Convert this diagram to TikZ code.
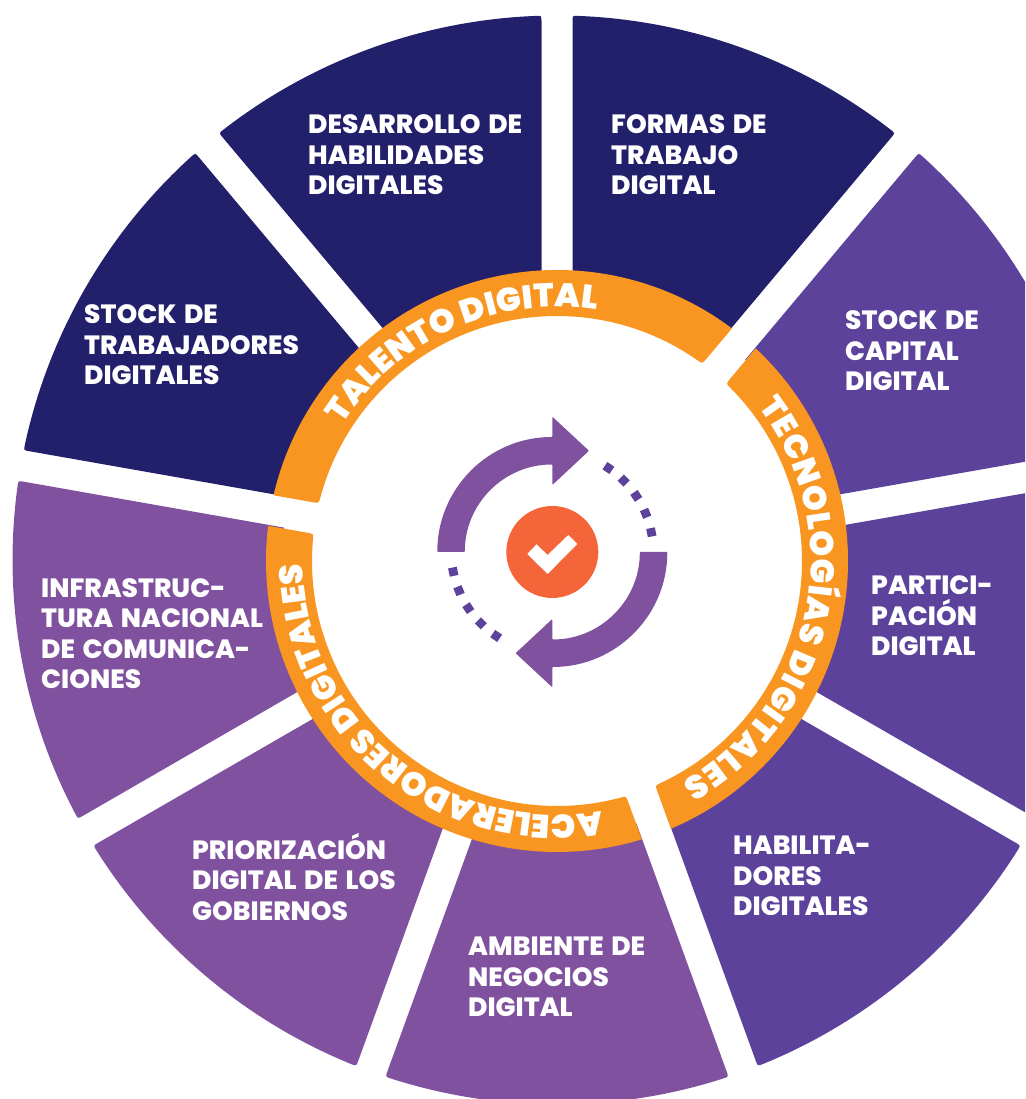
\documentclass[tikz,border=0pt]{standalone}
\usepackage{fontspec}
\setmainfont{Poppins}
\newfontfamily\lblfont[WordSpace=1.5]{Poppins ExtraBold}
\newfontfamily\rngfont{Poppins Black}
\usetikzlibrary{calc,decorations.text}
\definecolor{navy}{HTML}{221F6B}
\definecolor{indig}{HTML}{5C429B}
\definecolor{plum}{HTML}{7F519F}
\definecolor{ringor}{HTML}{F99621}
\definecolor{dotor}{HTML}{F4653A}
\newcommand{\sectorwedge}[3]{%
  \pgfmathsetmacro{\dao}{asin(15.5/544.5)}%
  \pgfmathsetmacro{\dai}{asin(15.5/275)}%
  \pgfmathsetmacro{\arA}{#1-\dao-0.55}%
  \pgfmathsetmacro{\arB}{#2+\dao+0.55}%
  \coordinate (oa) at ({#1-\dao}:544.5);
  \coordinate (ob) at ({#2+\dao}:544.5);
  \coordinate (ia) at ({#1-\dai}:275);
  \coordinate (ib) at ({#2+\dai}:275);
  \fill[#3] ($(oa)!5.5pt!(ia)$) .. controls (oa) .. (\arA:544.5)
    arc[start angle=\arA,end angle=\arB,radius=544.5pt]
    .. controls (ob) .. ($(ob)!5.5pt!(ib)$) -- (ib) -- (ia) -- cycle;
}
\newcommand{\ringseg}[2]{%
  \pgfmathsetmacro{\dao}{asin(15.5/291)}%
  \pgfmathsetmacro{\dai}{asin(15.5/245)}%
  \pgfmathsetmacro{\arA}{#1-\dai-1.5}%
  \pgfmathsetmacro{\arB}{#2+\dai+1.5}%
  \pgfmathsetmacro{\orA}{#1-\dao}%
  \pgfmathsetmacro{\orB}{#2+\dao}%
  \coordinate (oa) at (\orA:291);
  \coordinate (ob) at (\orB:291);
  \coordinate (ia) at ({#1-\dai}:245);
  \coordinate (ib) at ({#2+\dai}:245);
  \fill[ringor] (oa) arc[start angle=\orA,end angle=\orB,radius=291pt]
    -- ($(ib)!6.5pt!(ob)$) .. controls (ib) .. (\arB:245)
    arc[start angle=\arB,end angle=\arA,radius=245pt]
    .. controls (ia) .. ($(ia)!6.5pt!(oa)$) -- cycle;
}
\newcommand{\ringtext}[3]{%
  \path[decorate,decoration={text along path,text align={fit to path},
    text={|\rngfont\fontsize{33}{33}\selectfont\color{white}|#3}}]
    (#1:254) arc[start angle=#1,end angle=#2,radius=254pt];
}
\tikzset{
  lbl/.style={anchor=west,inner sep=0pt,align=left,text=white,
    font=\lblfont\fontsize{26.4}{30.4}\selectfont},
  iconarrow/.style={fill=plum},
  icondot/.style={fill=indig}
}
\begin{document}
\begin{tikzpicture}[x=1pt,y=1pt]
\useasboundingbox (0,0) rectangle (1025,1099);
\clip (0,0) rectangle (1025,1099);
\begin{scope}[shift={(557,539)}]
  \sectorwedge{130}{90}{navy}
  \sectorwedge{90}{50}{navy}
  \sectorwedge{170}{130}{navy}
  \sectorwedge{50}{10}{indig}
  \sectorwedge{10}{-30}{indig}
  \sectorwedge{-30}{-70}{indig}
  \sectorwedge{-70}{-110}{plum}
  \sectorwedge{-110}{-150}{plum}
  \sectorwedge{-150}{-190}{plum}
\end{scope}
\begin{scope}[shift={(557,538)}]
  \ringseg{170}{50}
  \ringseg{50}{-70}
  \ringseg{-70}{-190}
  \ringtext{147.5}{81}{TALENTO DIGITAL}
  \ringtext{37.5}{-60.5}{TECNOLOGÍAS DIGITALES}
  \ringtext{-80}{-179}{ACELERADORES DIGITALES}
\end{scope}
\begin{scope}[shift={(552.3,547)}]
  \foreach \rr in {0,180}{
    \begin{scope}[rotate=\rr]
      \fill[iconarrow,rounded corners=0.8pt] (180:115) arc[start angle=180,end angle=90,radius=115pt]
        -- (0,135.3) -- (36.7,101.2) -- (0,67) -- (0,87.5)
        arc[start angle=90,end angle=180,radius=87.5pt] -- cycle;
      \foreach \aa in {11.25,22.5,33.75,45,56.25}{
        \fill[icondot,rotate=\aa] (96.6,-4.2) rectangle (105.4,4.2);
      }
    \end{scope}
  }
  \fill[dotor] (0,0) circle[radius=46pt];
  \fill[white] (-25,-2) -- (-15.7,7.7) -- (-4.7,-3) -- (16,17) -- (25,8) -- (-4.7,-22) -- cycle;
\end{scope}
\node[lbl] (desarrollo) at (308,944) {DESARROLLO DE\\HABILIDADES\\DIGITALES};
\node[lbl] (formas) at (611,944) {FORMAS DE\\TRABAJO\\DIGITAL};
\node[lbl] (stocktrab) at (84,754) {STOCK DE\\TRABAJADORES\\DIGITALES};
\node[lbl] (stockcap) at (845,748) {STOCK DE\\CAPITAL\\DIGITAL};
\node[lbl] (particip) at (871,483) {PARTICI-\\PACIÓN\\DIGITAL};
\node[lbl] (habilita) at (733,223) {HABILITA-\\DORES\\DIGITALES};
\node[lbl] (ambiente) at (468,122) {AMBIENTE DE\\NEGOCIOS\\DIGITAL};
\node[lbl] (prioriza) at (192,222) {PRIORIZACIÓN\\DIGITAL DE LOS\\GOBIERNOS};
\node[lbl] (infra) at (41,465.5) {INFRASTRUC-\\TURA NACIONAL\\DE COMUNICA-\\CIONES};
\end{tikzpicture}
\end{document}
